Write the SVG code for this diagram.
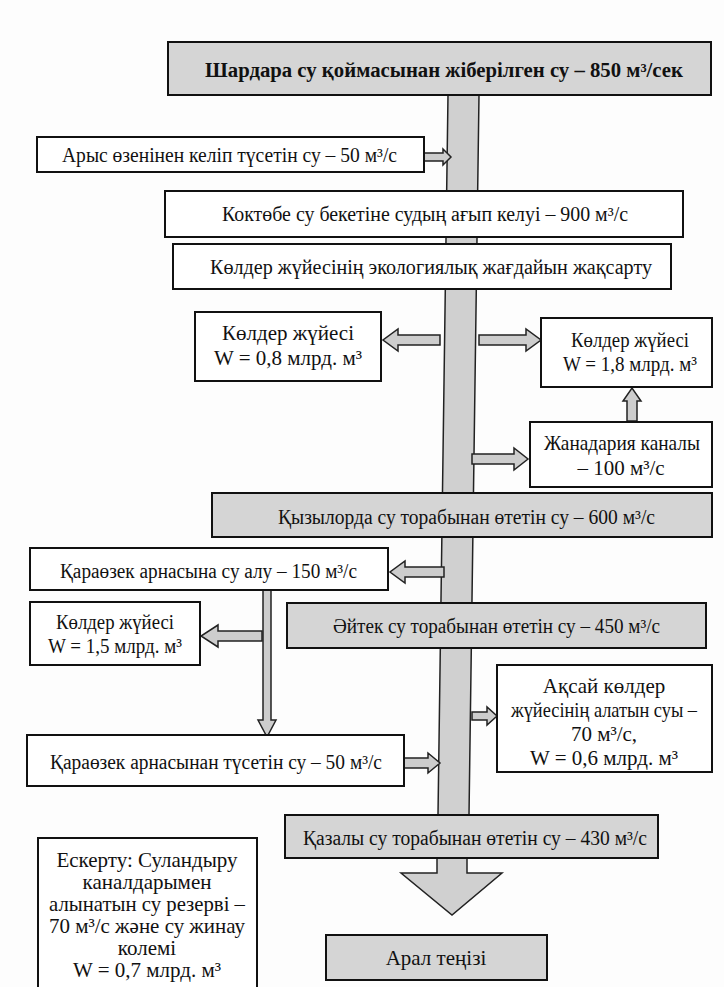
<svg xmlns="http://www.w3.org/2000/svg" width="724" height="987" viewBox="0 0 724 987">
<style>
.bx{fill:#ffffff;stroke:#111;stroke-width:2}
.gb{fill:#d5d5d5;stroke:#111;stroke-width:2}
.ar{fill:#cdcdcd;stroke:#222;stroke-width:1.5;stroke-linejoin:miter}
.bar{fill:#d0d0d0;stroke:#222;stroke-width:1.5}
text{font-family:"Liberation Serif","Times New Roman",serif;font-size:20px;fill:#111}
.c{text-anchor:middle;font-size:21px}
</style>
<rect width="724" height="987" fill="#fdfdfd"/>
<g id="connectors">
  <polygon class="bar" points="448,95 479,95 469,815 438,815"/>
  <polygon class="ar" points="424,153 443,153 443,149 451,157 443,165 443,161 424,161"/>
  <polygon class="ar" points="440,335 398,335 398,329 383,340 398,351 398,345 440,345"/>
  <polygon class="ar" points="479,335 526,335 526,329 541,340 526,351 526,345 479,345"/>
  <polygon class="ar" points="627,421 627,401 623,401 632,388 641,401 637,401 637,421"/>
  <polygon class="ar" points="472,454 514,454 514,448 528,459 514,470 514,464 472,464"/>
  <polygon class="ar" points="444,567 405,567 405,561 390,572 405,583 405,577 444,577"/>
  <polygon class="ar" points="263,590 271,590 271,720 276,720 267,737 258,720 263,720"/>
  <polygon class="ar" points="262,631 218,631 218,625 201,636 218,647 218,641 262,641"/>
  <polygon class="ar" points="472,712 487,712 487,707 497,716 487,725 487,720 472,720"/>
  <polygon class="ar" points="404,758 428,758 428,753 440,763 428,773 428,768 404,768"/>
  <polygon class="bar" points="437,858 467,858 467,873 502,873 452,915 401,873 437,873"/>
</g>
<g id="n-shardara">
  <rect class="gb" x="168" y="42" width="543" height="53"/>
  <text x="205" y="77" font-size="24" font-weight="bold" textLength="478" lengthAdjust="spacingAndGlyphs">Шардара су қоймасынан жіберілген су – 850 м³/сек</text>
</g>
<g id="n-arys">
  <rect class="bx" x="37" y="137" width="387" height="35"/>
  <text x="62" y="162" textLength="335" lengthAdjust="spacingAndGlyphs">Арыс өзенінен келіп түсетін су – 50 м³/с</text>
</g>
<g id="n-koktobe">
  <rect class="bx" x="165" y="191" width="518" height="46"/>
  <text x="222" y="221" textLength="406" lengthAdjust="spacingAndGlyphs">Коктөбе су бекетіне судың ағып келуі – 900 м³/с</text>
</g>
<g id="n-ecology">
  <rect class="bx" x="173" y="244" width="498" height="45"/>
  <text x="210" y="274" textLength="442" lengthAdjust="spacingAndGlyphs">Көлдер жүйесінің экологиялық жағдайын жақсарту</text>
</g>
<g id="n-lakes08">
  <rect class="bx" x="195" y="312" width="186" height="69"/>
  <text class="c" x="288" y="340">Көлдер жүйесі</text>
  <text class="c" x="288" y="365">W = 0,8 млрд. м³</text>
</g>
<g id="n-lakes18">
  <rect class="bx" x="541" y="318" width="171" height="69"/>
  <text class="c" x="630" y="347" textLength="118" lengthAdjust="spacingAndGlyphs">Көлдер жүйесі</text>
  <text class="c" x="630" y="371" textLength="134" lengthAdjust="spacingAndGlyphs">W = 1,8 млрд. м³</text>
</g>
<g id="n-zhanadaria">
  <rect class="bx" x="530" y="422" width="182" height="65"/>
  <text class="c" x="622" y="450" textLength="156" lengthAdjust="spacingAndGlyphs">Жанадария каналы</text>
  <text class="c" x="621" y="475">– 100 м³/с</text>
</g>
<g id="n-kyzylorda">
  <rect class="gb" x="212" y="493" width="500" height="44"/>
  <text x="278" y="524" font-size="21" textLength="377" lengthAdjust="spacingAndGlyphs">Қызылорда су торабынан өтетін су – 600 м³/с</text>
</g>
<g id="n-karaozek-in">
  <rect class="bx" x="30" y="548" width="358" height="42"/>
  <text x="60" y="578" textLength="297" lengthAdjust="spacingAndGlyphs">Қараөзек арнасына су алу – 150 м³/с</text>
</g>
<g id="n-lakes15">
  <rect class="bx" x="30" y="602" width="170" height="63"/>
  <text class="c" x="115" y="629" textLength="118" lengthAdjust="spacingAndGlyphs">Көлдер жүйесі</text>
  <text class="c" x="115" y="653" textLength="134" lengthAdjust="spacingAndGlyphs">W = 1,5 млрд. м³</text>
</g>
<g id="n-aitek">
  <rect class="gb" x="287" y="603" width="419" height="45"/>
  <text x="333" y="633" font-size="21" textLength="327" lengthAdjust="spacingAndGlyphs">Әйтек су торабынан өтетін су – 450 м³/с</text>
</g>
<g id="n-aksai">
  <rect class="bx" x="497" y="665" width="215" height="107"/>
  <text class="c" x="604" y="693">Ақсай көлдер</text>
  <text class="c" x="604" y="717" textLength="186" lengthAdjust="spacingAndGlyphs">жүйесінің алатын суы –</text>
  <text class="c" x="604" y="741">70 м³/с,</text>
  <text class="c" x="604" y="765">W = 0,6 млрд. м³</text>
</g>
<g id="n-karaozek-out">
  <rect class="bx" x="27" y="735" width="377" height="51"/>
  <text x="50" y="769" textLength="332" lengthAdjust="spacingAndGlyphs">Қараөзек арнасынан түсетін су – 50 м³/с</text>
</g>
<g id="n-kazaly">
  <rect class="gb" x="285" y="815" width="373" height="43"/>
  <text x="303" y="845" font-size="21" textLength="344" lengthAdjust="spacingAndGlyphs">Қазалы су торабынан өтетін су – 430 м³/с</text>
</g>
<g id="n-note">
  <rect class="bx" x="38" y="838" width="219" height="160"/>
  <text class="c" x="147" y="867">Ескерту: Суландыру</text>
  <text class="c" x="147" y="889">каналдарымен</text>
  <text class="c" x="147" y="911" textLength="196" lengthAdjust="spacingAndGlyphs">алынатын су резерві –</text>
  <text class="c" x="147" y="933" textLength="196" lengthAdjust="spacingAndGlyphs">70 м³/с және су жинау</text>
  <text class="c" x="147" y="955">колемі</text>
  <text class="c" x="147" y="977">W = 0,7 млрд. м³</text>
</g>
<g id="n-aral">
  <rect class="gb" x="326" y="935" width="221" height="45"/>
  <text class="c" x="436" y="965">Арал теңізі</text>
</g>
</svg>
